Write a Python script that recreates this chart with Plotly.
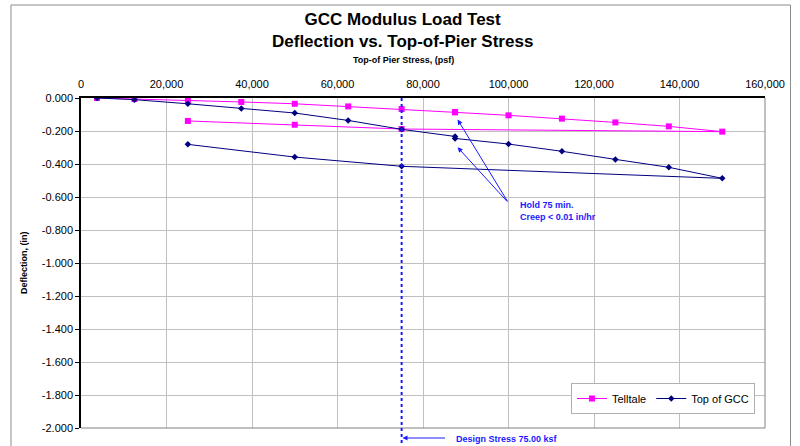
import plotly.graph_objects as go

# ---- data ----
telltale_x = [3750, 12500, 25000, 37500, 50000, 62500, 75000, 87500, 87500, 100000,
              112500, 125000, 137500, 150000, 75000, 50000, 25000]
telltale_y = [0.000, -0.006, -0.012, -0.024, -0.035, -0.051, -0.067, -0.085, -0.087, -0.105,
              -0.125, -0.148, -0.172, -0.204, -0.188, -0.162, -0.139]
gcc_x = [3750, 12500, 25000, 37500, 50000, 62500, 75000, 87500, 87500, 100000,
         112500, 125000, 137500, 150000, 75000, 50000, 25000]
gcc_y = [0.000, -0.010, -0.035, -0.063, -0.091, -0.136, -0.190, -0.233, -0.245, -0.279,
         -0.323, -0.372, -0.420, -0.487, -0.414, -0.358, -0.281]
design_stress = 75000
x_ticks = [0, 20000, 40000, 60000, 80000, 100000, 120000, 140000, 160000]
y_ticks = [0.0, -0.2, -0.4, -0.6, -0.8, -1.0, -1.2, -1.4, -1.6, -1.8, -2.0]
y_ticktext = [f"{abs(v):.3f}" if v == 0 else f"{v:.3f}" for v in y_ticks]

FONT = "Liberation Sans, Arial, sans-serif"
BLUE = "#1a1aff"

fig = go.Figure()
fig.add_trace(go.Scatter(
    x=telltale_x, y=telltale_y, name="Telltale", mode="lines+markers",
    line=dict(color="#ff00ff", width=1),
    marker=dict(symbol="square", size=6, color="#ff00ff"),
))
fig.add_trace(go.Scatter(
    x=gcc_x, y=gcc_y, name="Top of GCC", mode="lines+markers",
    line=dict(color="#000080", width=1),
    marker=dict(symbol="diamond", size=5, color="#000080"),
))

L, R, T, B = 81, 35, 98, 18
W, H = 800, 446
pw, ph = W - L - R, H - T - B


def px2paper_x(px):
    return (px - L) / pw


def px2paper_y(py):
    return (H - B - py) / ph


fig.update_layout(
    width=W, height=H,
    margin=dict(l=L, r=R, t=T, b=B),
    paper_bgcolor="white", plot_bgcolor="white",
    font=dict(family=FONT, color="black"),
    showlegend=True,
    legend=dict(
        orientation="h", x=px2paper_x(755), xanchor="right",
        y=px2paper_y(414), yanchor="bottom",
        bgcolor="white", bordercolor="#b0b0b0", borderwidth=1,
        font=dict(size=11, family=FONT), itemwidth=30,
    ),
    xaxis=dict(
        range=[0, 160000], side="top", tickvals=x_ticks, tickformat=",d",
        showgrid=True, gridcolor="#c0c0c0", gridwidth=1, zeroline=False,
        showline=True, linecolor="black", linewidth=1.5,
        ticks="", tickfont=dict(size=11, family=FONT), ticklabelstandoff=4,
    ),
    yaxis=dict(
        range=[-2.0, 0], tickvals=y_ticks, ticktext=y_ticktext,
        showgrid=True, gridcolor="#c0c0c0", gridwidth=1, zeroline=False,
        showline=True, linecolor="black", linewidth=1.5,
        ticks="outside", ticklen=4, tickcolor="black",
        tickfont=dict(size=11, family=FONT),
    ),
)

shapes = [
    # outer chart frame
    dict(type="rect", xref="paper", yref="paper",
         x0=px2paper_x(11), x1=px2paper_x(790.5), y0=px2paper_y(460), y1=px2paper_y(5),
         line=dict(color="#8c8c8c", width=1), layer="below"),
    # right & bottom plot border (gray)
    dict(type="line", xref="paper", yref="paper", x0=1, x1=1, y0=0, y1=1,
         line=dict(color="#808080", width=1)),
    dict(type="line", xref="paper", yref="paper", x0=0, x1=1, y0=0, y1=0,
         line=dict(color="#808080", width=1)),
    # design stress line
    dict(type="line", xref="x", yref="paper", x0=design_stress, x1=design_stress,
         y0=1, y1=px2paper_y(446), line=dict(color=BLUE, width=2, dash="dot")),
]
fig.update_layout(shapes=shapes)

annotations = [
    dict(text="<b>GCC Modulus Load Test<br>Deflection vs. Top-of-Pier Stress</b>",
         xref="paper", yref="paper", x=px2paper_x(402), y=px2paper_y(31),
         xanchor="center", yanchor="middle", showarrow=False,
         font=dict(size=17, family=FONT, color="black")),
    dict(text="<b>Top-of Pier Stress, (psf)</b>", xref="paper", yref="paper",
         x=px2paper_x(403), y=px2paper_y(60), xanchor="center", yanchor="middle",
         showarrow=False, font=dict(size=9, family=FONT)),
    dict(text="<b>Deflection, (in)</b>", xref="paper", yref="paper",
         x=px2paper_x(24), y=px2paper_y(263), xanchor="center", yanchor="middle",
         textangle=-90, showarrow=False, font=dict(size=9, family=FONT)),
    # hold arrows
    dict(text="", x=88100, y=-0.131, xref="x", yref="y", ax=100000, ay=-0.636,
         axref="x", ayref="y", showarrow=True, arrowhead=2, arrowsize=1,
         arrowwidth=1, arrowcolor=BLUE, standoff=0),
    dict(text="", x=88100, y=-0.299, xref="x", yref="y", ax=100000, ay=-0.636,
         axref="x", ayref="y", showarrow=True, arrowhead=2, arrowsize=1,
         arrowwidth=1, arrowcolor=BLUE, standoff=0),
    dict(text="<b>Hold 75 min.<br>Creep < 0.01 in/hr</b>", x=102300, y=-0.686,
         xref="x", yref="y", xanchor="left", yanchor="middle", align="left",
         showarrow=False, font=dict(size=9, family=FONT, color=BLUE)),
    # design stress arrow + label
    dict(text="", x=design_stress + 200, y=px2paper_y(438), xref="x", yref="paper",
         ax=44, ay=0, showarrow=True, arrowhead=2, arrowsize=1, arrowwidth=1,
         arrowcolor=BLUE, standoff=0),
    dict(text="<b>Design Stress 75.00 ksf</b>", x=px2paper_x(454), y=px2paper_y(439),
         xref="paper", yref="paper", xanchor="left", yanchor="middle",
         showarrow=False, font=dict(size=9, family=FONT, color=BLUE)),
]
fig.update_layout(annotations=annotations)

fig.write_html("out.html", config={"displayModeBar": False},
               post_script="document.body.style.margin='0px';document.body.style.overflow='hidden';")
